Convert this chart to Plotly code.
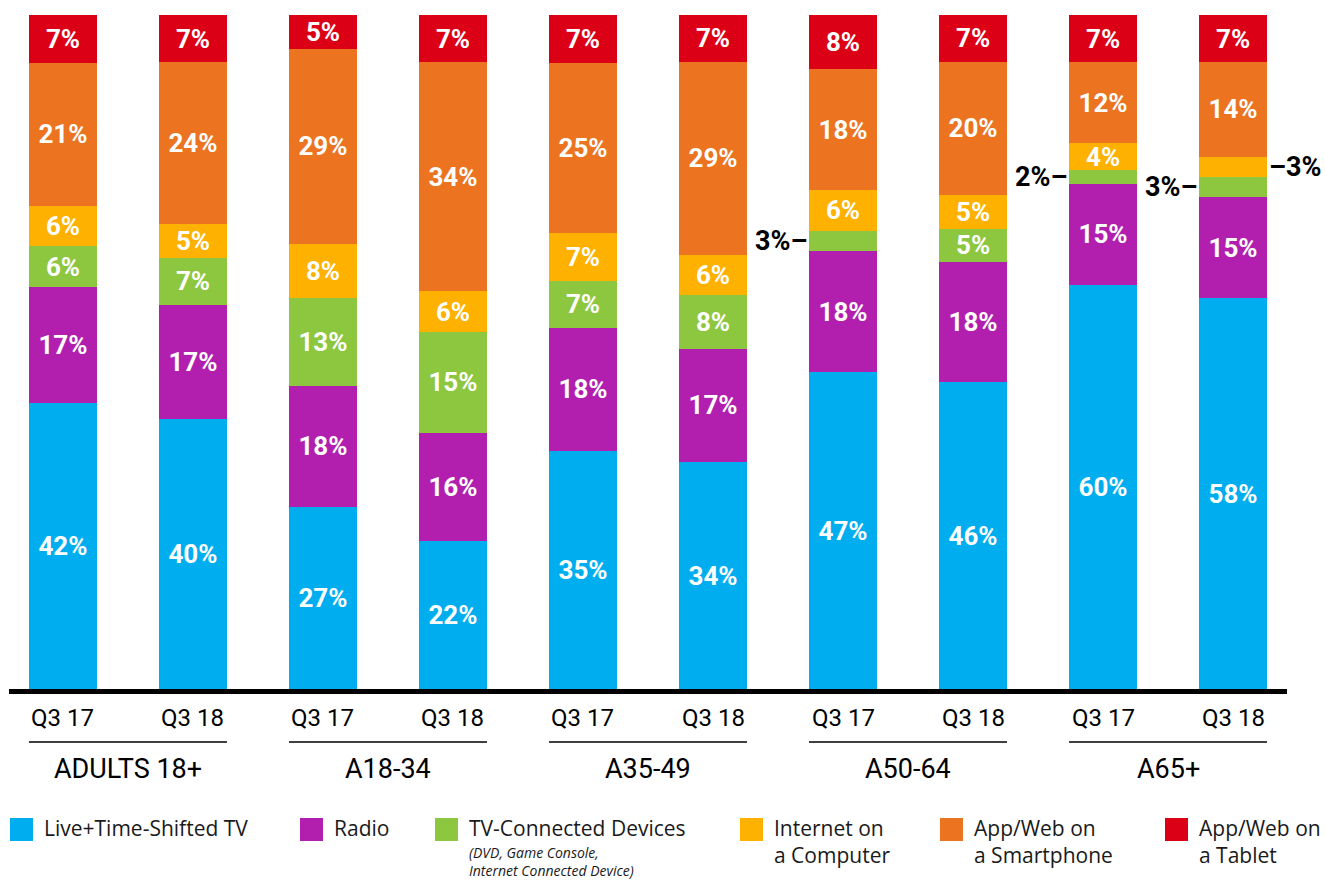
import plotly.graph_objects as go

# Share of time by platform, per demographic and quarter
groups = ["ADULTS 18+", "A18-34", "A35-49", "A50-64", "A65+"]
quarters = ["Q3 17", "Q3 18"]

live_tv = [42, 40, 27, 22, 35, 34, 47, 46, 60, 58]
radio = [17, 17, 18, 16, 18, 17, 18, 18, 15, 15]
tv_connected = [6, 7, 13, 15, 7, 8, 3, 5, 2, 3]
internet_pc = [6, 5, 8, 6, 7, 6, 6, 5, 4, 3]
smartphone = [21, 24, 29, 34, 25, 29, 18, 20, 12, 14]
tablet = [7, 7, 5, 7, 7, 7, 8, 7, 7, 7]

series_names = ["Live+Time-Shifted TV", "Radio", "TV-Connected Devices",
                "Internet on a Computer", "App/Web on a Smartphone", "App/Web on a Tablet"]
series_values = [live_tv, radio, tv_connected, internet_pc, smartphone, tablet]
colors = ["#00AEEF", "#B21FAE", "#8DC63F", "#FFB100", "#EC7320", "#DC0017"]

# segments too thin for an inside label: (series index, bar index, side)
outside_labels = [(2, 6, "left"), (2, 8, "left"), (2, 9, "left"), (3, 9, "right")]

W, H = 1325, 880
ML, MR, MT, MB = 9, 38, 15, 191
PW, PH = W - ML - MR, H - MT - MB
BAR_W = 0.523
COND = "Roboto, sans-serif"

n_bars = len(live_tv)
xs = list(range(n_bars))
hidden = {(s, b) for s, b, _ in outside_labels}

fig = go.Figure()
for s, (name, vals, col) in enumerate(zip(series_names, series_values, colors)):
    texts = ["" if (s, b) in hidden else f"{v}%" for b, v in enumerate(vals)]
    fig.add_trace(go.Bar(
        x=xs, y=vals, name=name, marker=dict(color=col, line=dict(width=0)),
        width=BAR_W, text=texts, textposition="inside", insidetextanchor="middle",
        textangle=0, constraintext="none",
        textfont=dict(family=COND, size=26, color="white", weight="bold"),
        hoverinfo="skip", showlegend=False,
    ))


def px_x(p):
    return (p - ML) / PW


def px_y(p):
    return (H - MB - p) / PH


annotations = []
shapes = []

# labels placed beside thin segments
for s, b, side in outside_labels:
    total = sum(v[b] for v in series_values)
    below = sum(series_values[k][b] for k in range(s))
    yc = (below + series_values[s][b] / 2) / total * 100
    if side == "left":
        annotations.append(dict(x=b - BAR_W / 2, y=yc, xref="x", yref="y",
                                text=f"{series_values[s][b]}%–", showarrow=False,
                                xanchor="right", yanchor="middle",
                                font=dict(family=COND, size=27, color="black", weight="bold")))
    else:
        annotations.append(dict(x=b + BAR_W / 2, y=yc, xref="x", yref="y",
                                text=f"–{series_values[s][b]}%", showarrow=False,
                                xanchor="left", yanchor="middle",
                                font=dict(family=COND, size=27, color="black", weight="bold")))

# baseline
shapes.append(dict(type="line", xref="paper", yref="paper", x0=0, x1=1,
                   y0=px_y(691.5), y1=px_y(691.5), line=dict(color="black", width=5)))

# quarter labels, group underlines and group names
for g, gname in enumerate(groups):
    for q, qname in enumerate(quarters):
        b = 2 * g + q
        annotations.append(dict(x=b, y=px_y(718), xref="x", yref="paper", text=qname,
                                showarrow=False, xanchor="center", yanchor="middle",
                                font=dict(family=COND, size=24, color="black")))
    shapes.append(dict(type="line", xref="x", yref="paper",
                       x0=2 * g - BAR_W / 2, x1=2 * g + 1 + BAR_W / 2,
                       y0=px_y(742), y1=px_y(742), line=dict(color="black", width=1.5)))
    annotations.append(dict(x=2 * g + 0.5, y=px_y(769), xref="x", yref="paper", text=gname,
                            showarrow=False, xanchor="center", yanchor="middle",
                            font=dict(family=COND, size=27, color="black")))

# legend
legend_items = [
    (10, ["Live+Time-Shifted TV"]),
    (300, ["Radio"]),
    (435, ["TV-Connected Devices"]),
    (740, ["Internet on", "a Computer"]),
    (940, ["App/Web on", "a Smartphone"]),
    (1165, ["App/Web on", "a Tablet"]),
]
LEG_FONT = dict(family="Open Sans, sans-serif", size=21, color="#1a1a1a")
for (lx, lines), col in zip(legend_items, colors):
    shapes.append(dict(type="rect", xref="paper", yref="paper",
                       x0=px_x(lx), x1=px_x(lx + 23), y0=px_y(841), y1=px_y(818),
                       fillcolor=col, line=dict(width=0)))
    annotations.append(dict(x=px_x(lx + 33), y=px_y(813), xref="paper", yref="paper",
                            text="<br>".join(lines), showarrow=False, align="left",
                            xanchor="left", yanchor="top", borderpad=0, font=LEG_FONT))

annotations.append(dict(x=px_x(468), y=px_y(842), xref="paper", yref="paper",
                        text="<i>(DVD, Game Console,<br>Internet Connected Device)</i>",
                        showarrow=False, align="left", xanchor="left", yanchor="top",
                        borderpad=0,
                        font=dict(family="Open Sans, sans-serif", size=14, color="#1a1a1a")))

fig.update_layout(
    width=W, height=H, barmode="stack", barnorm="percent",
    margin=dict(l=ML, r=MR, t=MT, b=MB),
    paper_bgcolor="white", plot_bgcolor="white",
    xaxis=dict(range=[-0.415, 9.415], visible=False, fixedrange=True),
    yaxis=dict(range=[0, 100], visible=False, fixedrange=True),
    uniformtext=dict(minsize=26, mode="show"),
    annotations=annotations, shapes=shapes,
)

fig.write_html("out.html")
